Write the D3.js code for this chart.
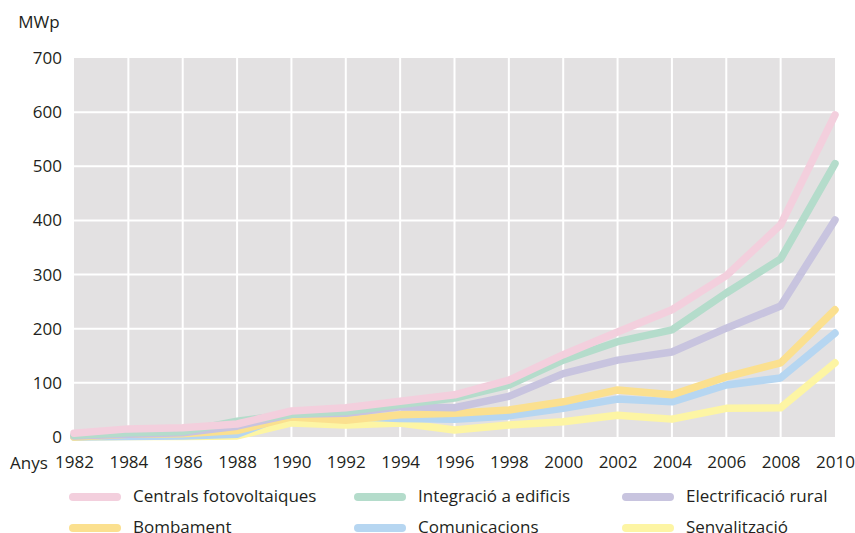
<!DOCTYPE html>
<html lang="ca">
    <head>
        <meta charset="utf-8">
        <title>MWp</title>
        <script type="text/javascript" src="https://d3js.org/d3.v7.min.js"></script>
        <style>
            body { margin: 0; background: #fff; }
            text { font-family: "Open Sans", sans-serif; fill: #231f20; }
        </style>
    </head>
    <body>
        <script type="text/javascript">

        var w = 855;
        var h = 533;

        // data
        var years = [1982, 1984, 1986, 1988, 1990, 1992, 1994, 1996, 1998, 2000, 2002, 2004, 2006, 2008, 2010];
        var yTicks = [0, 100, 200, 300, 400, 500, 600, 700];

        var centrals      = [7, 15, 17, 24, 48, 54, 66, 78, 105, 152, 194, 235, 298, 392, 595];
        var integracio    = [3, 8, 10, 29, 42, 47, 60, 72, 96, 142, 176, 198, 266, 329, 505];
        var electrificacio= [2, 5, 8, 20, 42, 44, 56, 54, 75, 117, 142, 157, 201, 242, 401];
        var bombament     = [0, 5, 6, 12, 37, 31, 41, 44, 50, 65, 87, 78, 111, 137, 235];
        var comunicacions = [0, 1, 2, 5, 44, 38, 34, 33, 39, 53, 70, 65, 96, 109, 192];
        var senyalitzacio = [0, 1, 1, 2, 26, 22, 26, 13, 22, 28, 40, 33, 53, 54, 137];

        var names = ["Centrals fotovoltaiques", "Integració a edificis", "Electrificació rural",
                     "Bombament", "Comunicacions", "Senyalització"];
        var colors = ["#f3cfdd", "#b4dccb", "#c8c4df", "#fbe08f", "#b6d6f1", "#fdf5a4"];
        var values = [centrals, integracio, electrificacio, bombament, comunicacions, senyalitzacio];

        var pLeft = 74, pRight = 835, pTop = 58, pBottom = 437;
        var fs = "17px";

        var x = d3.scaleLinear().domain([1982, 2010]).range([pLeft, pRight]);
        var y = d3.scaleLinear().domain([0, 700]).range([pBottom, pTop]);

        var svg = d3.select("body")
            .append("svg")
            .attr("width", w)
            .attr("height", h);

        svg.append("rect")
           .attr("x", pLeft)
           .attr("y", pTop)
           .attr("width", pRight - pLeft)
           .attr("height", pBottom - pTop)
           .attr("fill", "#e3e1e2");

        // grid
        svg.selectAll("line.vg")
           .data(years.slice(1, -1))
           .enter()
           .append("line")
           .attr("x1", function(d) { return x(d); })
           .attr("x2", function(d) { return x(d); })
           .attr("y1", pTop)
           .attr("y2", pBottom)
           .attr("stroke", "#fff")
           .attr("stroke-width", 2);

        svg.selectAll("line.hg")
           .data(yTicks.slice(1, -1))
           .enter()
           .append("line")
           .attr("x1", pLeft)
           .attr("x2", pRight)
           .attr("y1", function(d) { return y(d); })
           .attr("y2", function(d) { return y(d); })
           .attr("stroke", "#fff")
           .attr("stroke-width", 2);

        // axes
        var yAxis = d3.axisLeft(y).tickValues(yTicks).tickSize(0).tickPadding(12);
        var gy = svg.append("g").attr("transform", "translate(" + pLeft + ",0)").call(yAxis);
        gy.select(".domain").remove();
        gy.selectAll("text").attr("font-size", fs).attr("font-family", "Open Sans, sans-serif").attr("fill", "#231f20");

        var xAxis = d3.axisBottom(x).tickValues(years).tickFormat(d3.format("d")).tickSize(0).tickPadding(19);
        var gx = svg.append("g").attr("transform", "translate(0," + pBottom + ")").call(xAxis);
        gx.select(".domain").remove();
        gx.selectAll("text").attr("font-size", fs).attr("font-family", "Open Sans, sans-serif").attr("fill", "#231f20");

        svg.append("text")
           .attr("x", 39)
           .attr("y", 28)
           .attr("text-anchor", "middle")
           .attr("font-size", fs)
           .text("MWp");

        svg.append("text")
           .attr("x", 10)
           .attr("y", 469)
           .attr("font-size", fs)
           .text("Anys");

        // lines, bottom series first so pink ends on top
        var line = d3.line()
            .x(function(d, i) { return x(years[i]); })
            .y(function(d) { return y(d); });

        for (var i = values.length - 1; i >= 0; i--) {
            svg.append("path")
               .datum(values[i])
               .attr("d", line)
               .attr("fill", "none")
               .attr("stroke", colors[i])
               .attr("stroke-width", 7.5)
               .attr("stroke-linejoin", "round")
               .attr("stroke-linecap", "round");
        }

        // legend
        var colX = [69, 354, 622];
        var rowY = [497, 528];
        names.forEach(function(n, i) {
            var cx = colX[i % 3], cy = rowY[Math.floor(i / 3)];
            svg.append("line")
               .attr("x1", cx + 4)
               .attr("x2", cx + 48)
               .attr("y1", cy)
               .attr("y2", cy)
               .attr("stroke", colors[i])
               .attr("stroke-width", 8)
               .attr("stroke-linecap", "round");
            svg.append("text")
               .attr("x", cx + 64)
               .attr("y", cy + 5)
               .attr("font-size", fs)
               .text(n);
        });
        </script>
    </body>
</html>
